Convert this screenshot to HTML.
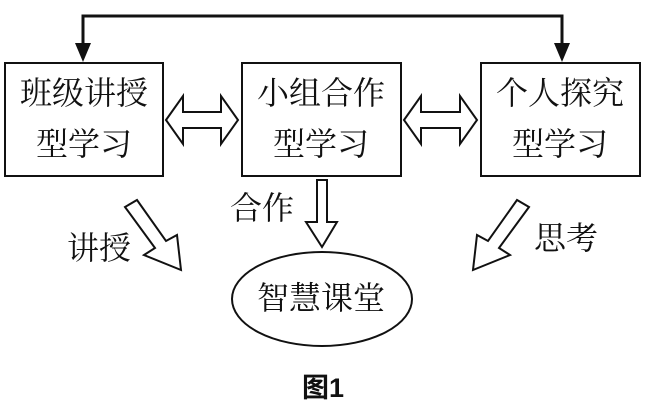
<!DOCTYPE html>
<html><head><meta charset="utf-8"><style>
html,body{margin:0;padding:0;background:#fff;}
svg{display:block;}
text{font-family:"Liberation Serif","Noto Serif CJK SC","Noto Sans CJK SC",serif;fill:#111;}
</style></head><body>
<svg width="648" height="407" viewBox="0 0 648 407" xmlns="http://www.w3.org/2000/svg">
<g fill="none" stroke="#111" stroke-width="3">
<polyline points="83,45 83,16 562,16 562,45"/>
</g>
<polygon points="75,43 91,43 83,62" fill="#111"/>
<polygon points="554,43 570,43 562,62" fill="#111"/>
<g fill="#fff" stroke="#111" stroke-width="2">
<rect x="5" y="63" width="158" height="113"/>
<rect x="242" y="63" width="159" height="113"/>
<rect x="481" y="63" width="159" height="113"/>
<polygon points="166,120 183,96 183,112 221,112 221,96 238,120 221,144 221,128 183,128 183,144"/>
<polygon points="404,120 421,96 421,112 460,112 460,96 477,120 460,144 460,128 421,128 421,144"/>
<polygon points="317,180 327,180 327,222 337,222 322,247 306,222 317,222"/>
<polygon points="125,207 137,200 166,241 177,235 181,270 144,255 155,248"/>
<polygon points="529,207 517,200 488,241 477,235 473,270 510,255 499,248"/>
<ellipse cx="322" cy="299" rx="90" ry="47"/>
</g>
<g font-size="32" text-anchor="middle">
<text x="84" y="104">班级讲授</text>
<text x="84" y="155">型学习</text>
<text x="321" y="104">小组合作</text>
<text x="321" y="155">型学习</text>
<text x="560" y="104">个人探究</text>
<text x="560" y="155">型学习</text>
<text x="321" y="309">智慧课堂</text>
<text x="99" y="259">讲授</text>
<text x="262" y="219">合作</text>
<text x="566" y="249">思考</text>
</g>
<text x="323" y="397" font-size="27" text-anchor="middle" font-weight="bold" style="font-family:'Liberation Sans','Noto Sans CJK SC',sans-serif">图1</text>
</svg>
</body></html>
